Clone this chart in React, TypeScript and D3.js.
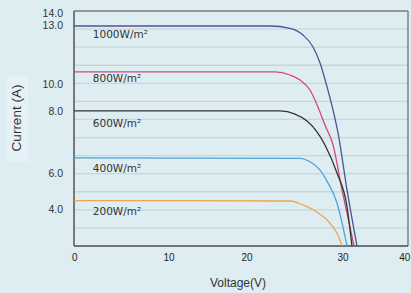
import React from "react";
import * as d3 from "d3";

// ---- data ----
const voltage1000 = [0, 21.86, 24.09, 25.54, 26.66, 27.44, 28.22, 28.89, 29.45, 30.45, 31.56];
const current1000 = [13.17, 13.17, 13.04, 12.67, 12.01, 11.12, 9.8, 8.52, 7.25, 4.1, 1.0];

const voltage800 = [0, 22.42, 24.09, 25.21, 26.32, 27.21, 27.99, 28.89, 29.89, 31.23];
const current800 = [10.63, 10.63, 10.46, 10.18, 9.63, 8.69, 7.69, 6.59, 4.1, 1.0];

const voltage600 = [0, 22.98, 24.65, 25.99, 27.1, 27.99, 29.33, 30.45, 31.0];
const current600 = [8.47, 8.47, 8.3, 7.91, 7.31, 6.59, 5.04, 3.16, 1.0];

const voltage400 = [0, 25.21, 26.32, 27.44, 28.33, 29.33, 30.0, 30.45];
const current400 = [5.88, 5.85, 5.66, 5.2, 4.49, 3.38, 2.05, 1.0];

const voltage200 = [0, 24.09, 25.54, 27.1, 28.22, 29.11, 29.67, 29.89];
const current200 = [3.51, 3.49, 3.27, 2.88, 2.44, 1.89, 1.33, 1.0];

const seriesNames = ["1000W/m²", "800W/m²", "600W/m²", "400W/m²", "200W/m²"];
const seriesColors = ["#4b5592", "#d2467c", "#333333", "#4ea3d8", "#e9a954"];
const seriesLabelAt = [12.73, 10.28, 7.8, 5.31, 2.94];
const labelVoltage = 2.1;

const xTickLabels = ["0", "10", "20", "30", "40"];
const xTickAt = [0.1, 10.6, 19.3, 30.0, 36.9];
const yTickLabels = ["14.0", "13.0", "10.0", "8.0", "6.0", "4.0"];
const yTickAt = [13.89, 13.2, 9.96, 8.47, 5.04, 3.05];
const gridValues = [2, 3, 4, 5, 6, 7, 8, 9, 10, 11, 12, 13];

const W = 411;
const H = 293;
const left = 74, right = 408, top = 11, bottom = 246;

export default function App() {
  const x = d3.scaleLinear().domain([0, 37.25]).range([left, right]);
  const y = d3.scaleLinear().domain([1, 14]).range([bottom, top]);

  const allV = [voltage1000, voltage800, voltage600, voltage400, voltage200];
  const allI = [current1000, current800, current600, current400, current200];

  const line = d3
    .line<[number, number]>()
    .x((d) => x(d[0]))
    .y((d) => y(d[1]))
    .curve(d3.curveMonotoneX);

  const sans = "'Liberation Sans', Arial, sans-serif";
  const deja = "'DejaVu Sans', Verdana, sans-serif";

  return (
    <svg
      width={W}
      height={H}
      style={{ position: "absolute", left: 0, top: 0, display: "block" }}
    >
      <defs>
        <clipPath id="plotClip">
          <rect x={left} y={top} width={right - left} height={bottom - top} />
        </clipPath>
      </defs>
      <rect x={0} y={0} width={W} height={H} fill="#deedf1" />
      <rect x={7} y={76} width={21} height={86} fill="#e5f1f5" />

      {gridValues.map((g) => (
        <line
          key={g}
          x1={left}
          x2={right}
          y1={y(g)}
          y2={y(g)}
          stroke="#c8d6d9"
          strokeWidth={1.3}
        />
      ))}

      {/* frame */}
      <line x1={left} x2={right} y1={top} y2={top} stroke="#7a7a7a" strokeWidth={1.4} />
      <line x1={right} x2={right} y1={top} y2={bottom} stroke="#7a7a7a" strokeWidth={1.4} />
      <line x1={left} x2={left} y1={top} y2={bottom} stroke="#4a4a4a" strokeWidth={1.4} />
      <line x1={left} x2={right} y1={bottom} y2={bottom} stroke="#4a4a4a" strokeWidth={1.4} />

      <g clipPath="url(#plotClip)">
        {allV.map((vs, i) => (
          <path
            key={i}
            d={line(vs.map((v, j) => [v, allI[i][j]] as [number, number])) || ""}
            fill="none"
            stroke={seriesColors[i]}
            strokeWidth={1.3}
          />
        ))}
      </g>

      {seriesNames.map((n, i) => (
        <text
          key={n}
          x={x(labelVoltage)}
          y={y(seriesLabelAt[i])}
          dy="0.36em"
          fontFamily={deja}
          fontSize={10.5}
          fill="#333"
        >
          {n}
        </text>
      ))}

      {yTickLabels.map((t, i) => (
        <text
          key={t}
          x={63}
          y={y(yTickAt[i])}
          dy="0.36em"
          textAnchor="end"
          fontFamily={sans}
          fontSize={10.5}
          fill="#333"
        >
          {t}
        </text>
      ))}

      {xTickLabels.map((t, i) => (
        <text
          key={t}
          x={x(xTickAt[i])}
          y={257}
          dy="0.36em"
          textAnchor="middle"
          fontFamily={sans}
          fontSize={10}
          fill="#222"
        >
          {t}
        </text>
      ))}

      <text
        x={238}
        y={283}
        dy="0.36em"
        textAnchor="middle"
        fontFamily={sans}
        fontSize={12}
        fill="#333"
      >
        Voltage(V)
      </text>
      <text
        transform="translate(16,118) rotate(-90)"
        dy="0.36em"
        textAnchor="middle"
        fontFamily={sans}
        fontSize={13.5}
        fill="#333"
      >
        Current (A)
      </text>
    </svg>
  );
}
